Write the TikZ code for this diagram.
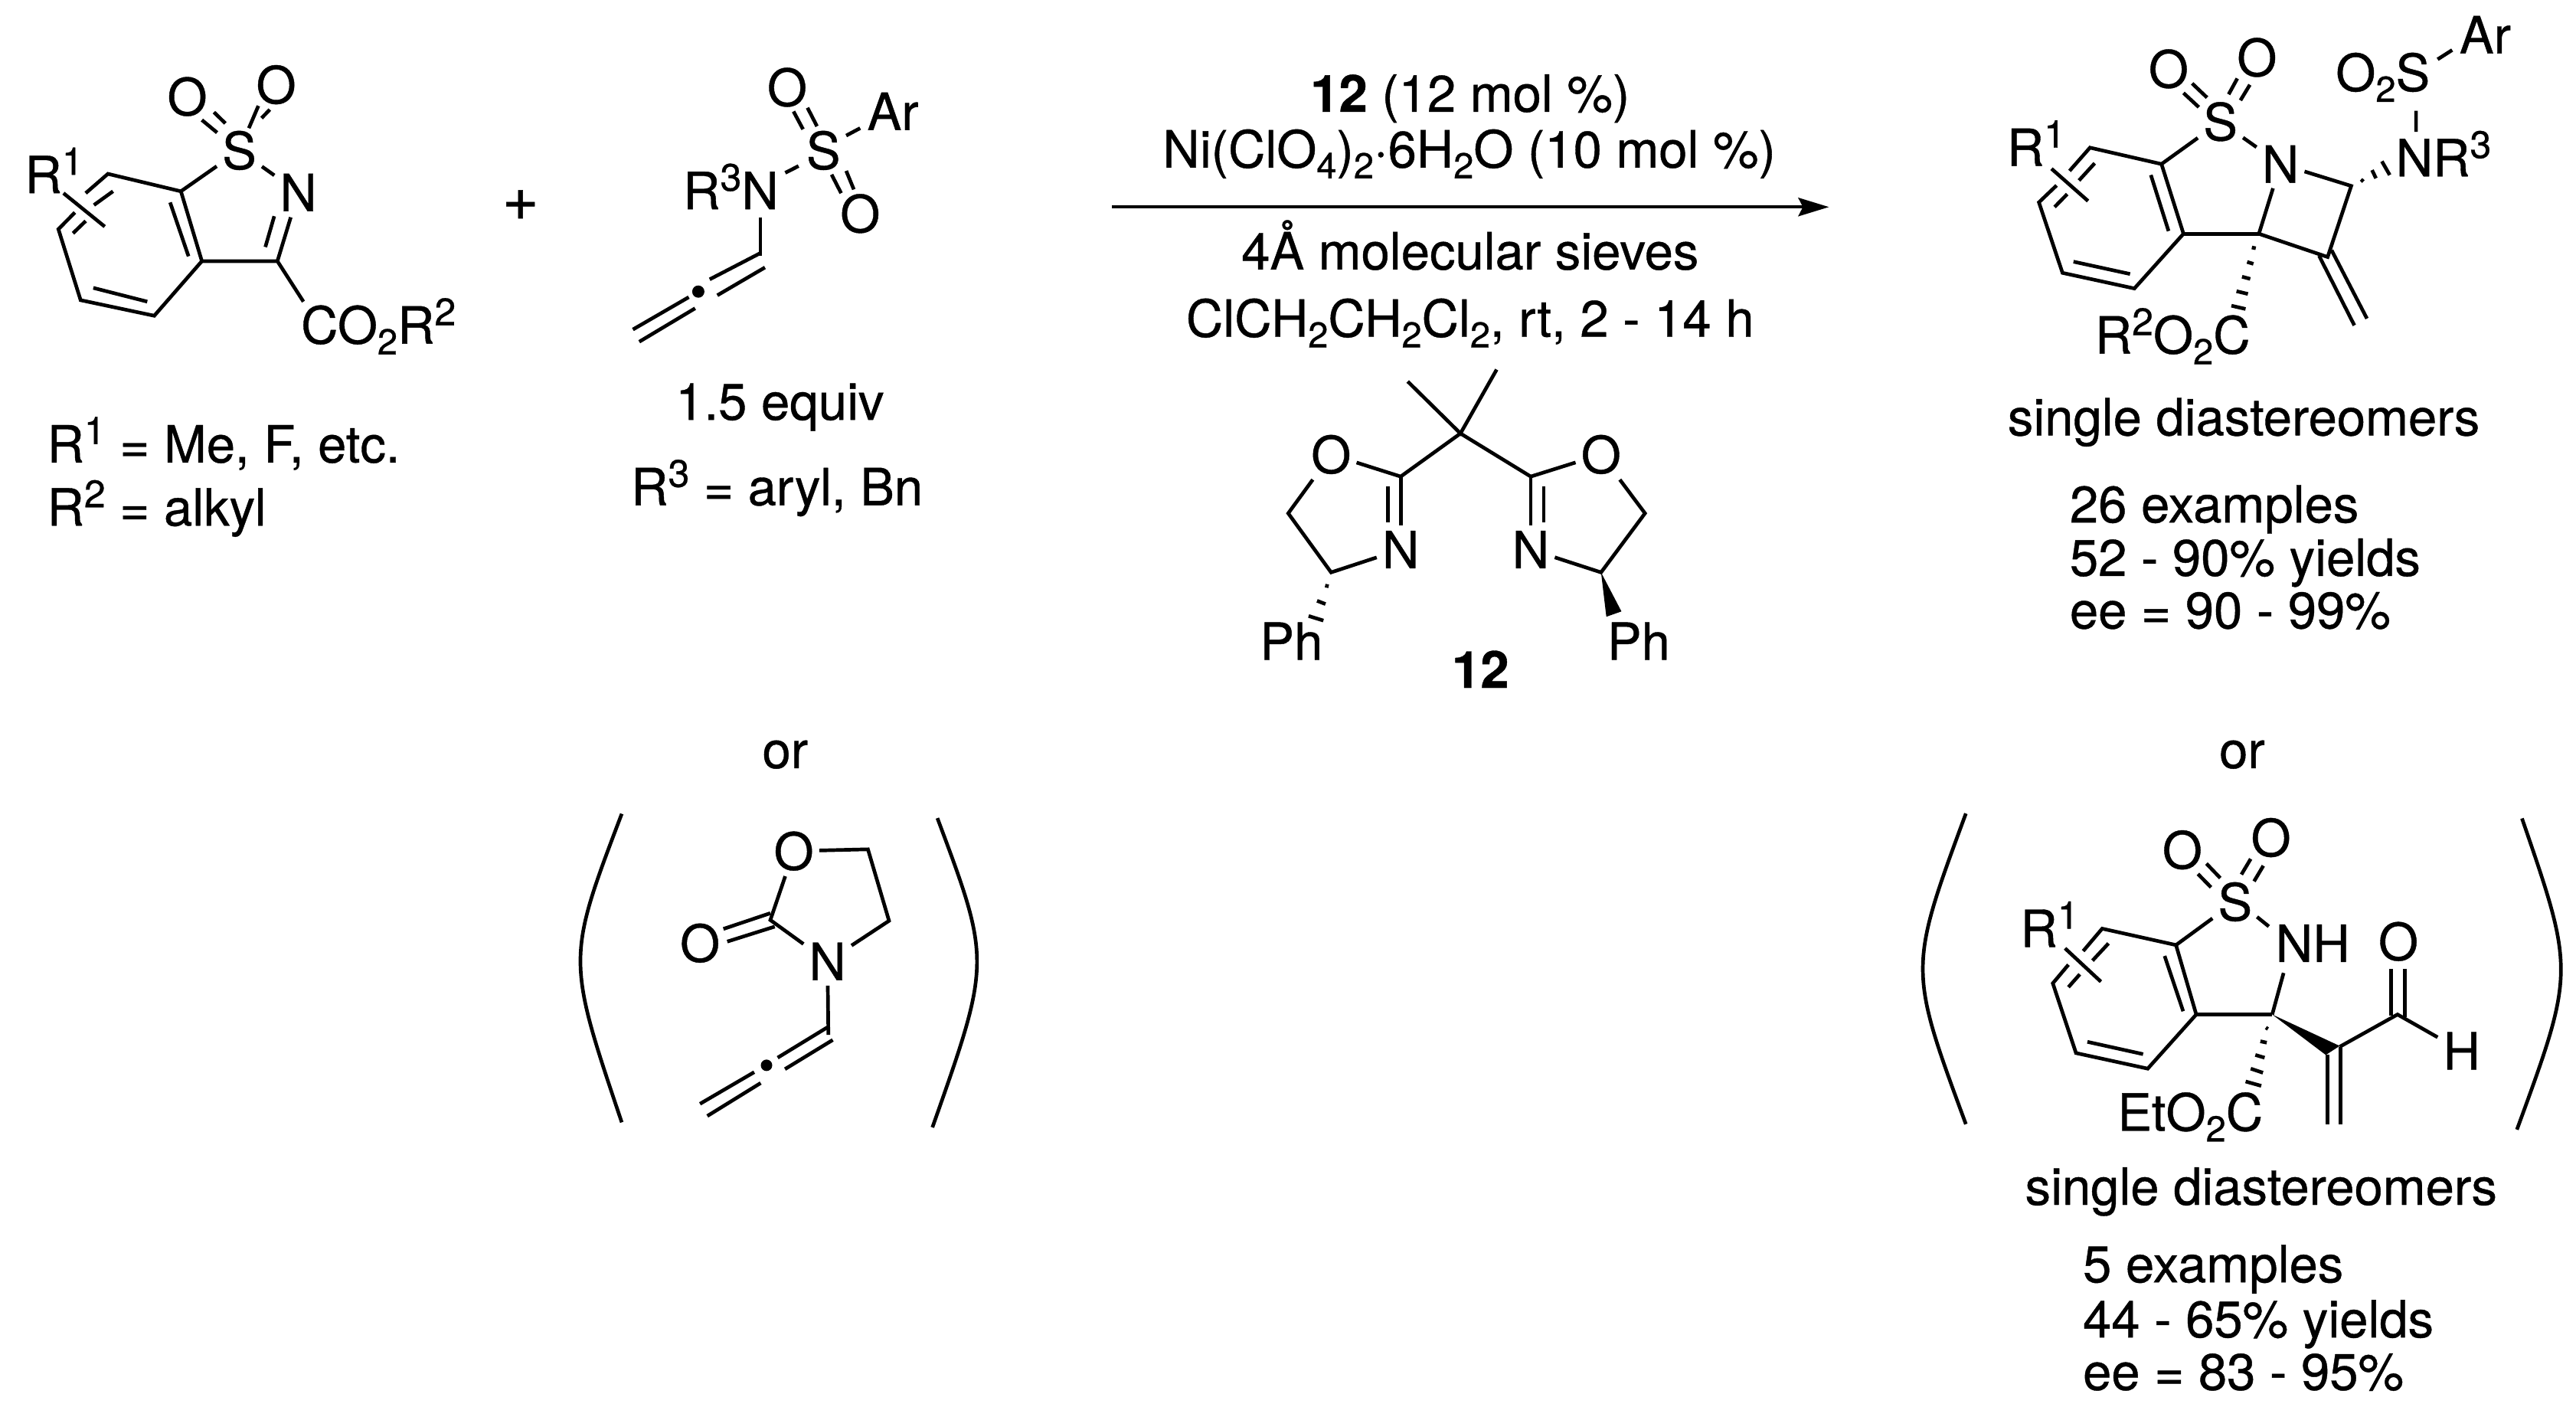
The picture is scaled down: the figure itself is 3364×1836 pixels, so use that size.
\documentclass[tikz,border=0pt]{standalone}
\usepackage{fontspec}
\setmainfont{TeX Gyre Heros}[FakeBold=0.6]
\usetikzlibrary{arrows.meta}
\newcommand{\sups}[1]{\raisebox{24pt}{\fontsize{50}{50}\selectfont #1}}
\newcommand{\subs}[1]{\raisebox{-14pt}{\fontsize{47}{47}\selectfont #1}}
\tikzset{
  every node/.style={font=\fontsize{67}{80}\selectfont,text=black},
  atom/.style={inner sep=7pt,anchor=center},
  lab/.style={inner sep=0pt,anchor=base west,xshift=-5pt},
  rlab/.style={inner sep=0pt,anchor=base west},
  midlab/.style={inner sep=0pt,anchor=base},
  bond/.style={line width=4.7pt,line cap=butt,line join=miter,draw=black},
  brack/.style={line width=4.7pt,draw=black},
  crop1/.style={x=.829pt,y=-.485pt},
  crop2/.style={shift={(2560pt,0pt)},x=.513pt,y=-.357pt},
  crop3/.style={shift={(2500pt,-1040pt)},x=.551pt,y=-.357pt},
  crop4/.style={shift={(1540pt,-460pt)},x=.459pt,y=-.331pt},
  crop5/.style={shift={(740pt,-1040pt)},x=.3827pt,y=-.331pt},
  refc/.style={x=2.145pt,y=-2.145pt},
}
\begin{document}
\begin{tikzpicture}[x=1pt,y=-1pt]
\useasboundingbox (0,0) rectangle (3364,1836);
\fill[white] (0,0) rectangle (3364,1836);

%%% substrate 1 and 2
\begin{scope}[crop1]
\node[atom] (Sa) at (377,405) {S};
\node[atom] (Na) at (470,518) {N};
\node[atom] (Oa1) at (295,260) {O};
\node[atom] (Oa2) at (435,228) {O};
\node[lab] (Ra) at (45,520) {R\sups{1}};
\node[lab] (COa) at (480,925) {CO\subs{2}R\sups{2}};
\coordinate (a1) at (170,468); \coordinate (a2) at (285,515); \coordinate (a3) at (318,703);
\coordinate (a4) at (243,850); \coordinate (a5) at (127,808); \coordinate (a6) at (92,617);
\coordinate (a7) at (437,703); \coordinate (a8) at (478,812);
\draw[bond] (a2)--(a1)--(135,520) (118,572)--(a6)--(a5)--(a4)--(a3)--(a2);
\draw[bond] (a3)--(a7)--(a8);
\draw[bond] (a2)--(Sa); \draw[bond] (Sa)--(Na);
\draw[bond] (a7)--(458,585) (418,665)--(432,582);
\draw[bond] (268,545)--(297,690) (147,775)--(232,812) (178,515)--(148,552) (135,595)--(115,628);
\draw[bond] (100,520)--(165,610);
\draw[bond] (318,323)--(342,357) (337,302)--(355,332) (392,345)--(407,285) (412,318)--(425,295);

\node[atom] (Sb) at (1297,405) {S};
\node[atom] (Ob1) at (1240,235) {O};
\node[atom] (Ob2) at (1355,575) {O};
\node[lab] (Arb) at (1372,350) {Ar};
\node[lab] (Nb) at (1082,563) {R\sups{3}N};
\coordinate (b1) at (1198,688); \coordinate (b0) at (1198,585);
\draw[bond] (b0)--(b1);
\draw[bond] (1237,465)--(1258,447) (1333,365)--(1355,345);
\draw[bond] (1250,300)--(1265,348) (1272,290)--(1287,340) (1310,470)--(1325,520) (1333,460)--(1345,510);
\draw[bond] (1197,682)--(1118,752) (1205,720)--(1130,795) (1085,800)--(997,887) (1095,830)--(1007,920);
\fill (1100,785) ellipse (8pt and 8pt);
\node[lab] at (80,1245) {R\sups{1} = Me, F, etc.};
\node[lab] at (80,1415) {R\sups{2} = alkyl};
\node[lab] at (1070,1130) {1.5 equiv};
\node[lab] at (1000,1360) {R\sups{3} = aryl, Bn};
\node[atom,font=\fontsize{82}{90}\selectfont] (plus) at (820,552) {+};
\end{scope}

%%% ligand
\begin{scope}[crop4]
\coordinate (lc) at (800,320); \coordinate (lm1) at (650,115); \coordinate (lm2) at (903,68);
\coordinate (l2) at (630,490); \coordinate (r2) at (1000,490);
\coordinate (lch2) at (310,635); \coordinate (lch) at (432,868);
\coordinate (rch2) at (1325,635); \coordinate (rch) at (1200,868);
\node[atom] (lO) at (432,403) {O};
\node[atom] (rO) at (1200,403) {O};
\node[atom] (lN) at (630,778) {N};
\node[atom] (rN) at (1000,778) {N};
\node[lab] (lPh) at (240,1213) {Ph};
\node[lab] (rPh) at (1228,1213) {Ph};
\node[atom] (n12) at (857,1250) {\bfseries 12};
\draw[bond] (lm1)--(lc)--(lm2) (l2)--(lc)--(r2);
\draw[bond] (l2)--(lO); \draw[bond] (lO)--(lch2)--(lch)--(lN);
\draw[bond] (r2)--(rO); \draw[bond] (rO)--(rch2)--(rch)--(rN);
\draw[bond] (l2)--(lN); \draw[bond] (r2)--(rN);
\draw[bond] (594,530)--(594,672) (1037,530)--(1037,672);
\draw[bond] (415,920)--(425,923) (392,980)--(416,993) (368,1040)--(410,1058);
\fill (rch)--(1215,1043)--(1258,1022)--cycle;
\end{scope}

%%% oxazolidinone allene
\begin{scope}[crop5]
\node[atom] (cO1) at (775,215) {O};
\node[atom] (cO2) at (455,578) {O};
\node[atom] (cN) at (890,650) {N};
\coordinate (cC) at (695,487); \coordinate (cA) at (1028,208); \coordinate (cB) at (1100,490); \coordinate (cH) at (893,940);
\draw[bond] (cO1)--(cC)--(cN)--(cB)--(cA)--(cO1);
\draw[bond] (cN)--(cH);
\draw[bond] (535,522)--(695,460) (548,572)--(710,513);
\draw[bond] (720,1030)--(890,910) (745,1075)--(908,960) (640,1087)--(455,1212) (662,1130)--(480,1260);
\fill (682,1060) ellipse (7.5pt and 7.5pt);
\draw[brack] (188,68) .. controls (0,640) .. (188,1285);
\draw[brack] (1265,85) .. controls (1448,650) .. (1248,1305);
\end{scope}

%%% product 1
\begin{scope}[crop2]
\node[atom] (Sp) at (662,445) {S};
\node[atom] (Np) at (815,600) {N};
\node[atom] (Op1) at (530,252) {O};
\node[atom] (Op2) at (755,210) {O};
\node[lab] at (128,607) {R\sups{1}};
\node[lab] at (352,1293) {R\sups{2}O\subs{2}C};
\node[lab] at (965,333) {O\subs{2}S};
\node[lab] at (1280,195) {Ar};
\node[lab] at (1118,645) {NR\sups{3}};
\coordinate (p1) at (330,540); \coordinate (p2) at (512,600); \coordinate (p3) at (568,855);
\coordinate (p4) at (443,1055); \coordinate (p5) at (260,998); \coordinate (p6) at (200,740);
\coordinate (p7) at (760,855); \coordinate (p8) at (995,680); \coordinate (p9) at (935,940);
\draw[bond] (p2)--(p1)--(278,625) (245,678)--(p6)--(p5)--(p4)--(p3)--(p2);
\draw[bond] (342,597)--(302,660) (272,710)--(240,757) (232,617)--(325,735);
\draw[bond] (485,640)--(530,845) (288,957)--(432,1002);
\draw[bond] (p2)--(Sp); \draw[bond] (Sp)--(Np);
\draw[bond] (568,340)--(607,392) (590,305)--(628,357) (683,345)--(705,287) (713,367)--(737,310);
\draw[bond] (Np)--(p8)--(p9)--(p7)--(Np);
\draw[bond] (p3)--(p7);
\draw[bond] (945,915)--(1035,1165) (913,935)--(1003,1190);
\draw[bond] (742,905)--(752,908) (730,958)--(746,965) (717,1012)--(738,1020) (703,1065)--(732,1075) (690,1118)--(726,1130);
\draw[bond] (1020,656)--(1026,664) (1048,622)--(1058,652) (1073,590)--(1093,640);
\draw[bond] (1160,405)--(1160,482) (1215,217)--(1252,183);
\end{scope}

%%% product 2
\begin{scope}[crop3]
\node[atom] (Sq) at (760,385) {S};
\node[atom] (Oq1) at (635,195) {O};
\node[atom] (Oq2) at (845,150) {O};
\node[atom] (Oq3) at (1147,530) {O};
\node[atom] (Hq) at (1297,930) {H};
\node[lab] at (865,605) {NH};
\node[lab] at (260,550) {R\sups{1}};
\node[lab] at (490,1222) {EtO\subs{2}C};
\coordinate (q1) at (445,483); \coordinate (q2) at (620,543); \coordinate (q3) at (668,797);
\coordinate (q4) at (553,995); \coordinate (q5) at (383,938); \coordinate (q6) at (328,683);
\coordinate (q7) at (848,797); \coordinate (q8) at (1008,915); \coordinate (q9) at (1145,797);
\draw[bond] (q2)--(q1)--(400,565) (365,615)--(q6)--(q5)--(q4)--(q3)--(q2);
\draw[bond] (460,537)--(422,600) (392,650)--(365,697) (357,555)--(442,677);
\draw[bond] (593,583)--(637,785) (410,897)--(542,942);
\draw[bond] (q2)--(Sq);
\draw[bond] (812,440)--(840,475) (875,645)--(q7);
\draw[bond] (672,283)--(703,332) (692,245)--(725,298) (775,285)--(797,228) (805,310)--(827,253);
\draw[bond] (q3)--(q7);
\fill (q7)--(975,945)--(1008,912)--cycle;
\draw[bond] (q8)--(q9)--(Hq);
\draw[bond] (1130,800)--(1130,630) (1162,808)--(1162,630);
\draw[bond] (979,945)--(979,1198) (1010,915)--(1010,1198);
\draw[bond] (833,845)--(838,850) (820,895)--(835,900) (808,945)--(830,955) (797,995)--(826,1010) (785,1042)--(822,1058);
\draw[brack] (122,62) .. controls (-14,630) .. (122,1198);
\draw[brack] (1440,80) .. controls (1565,640) .. (1428,1218);
\node[rlab] at (262,1493) {single diastereomers};
\end{scope}

%%% free text and arrow
\begin{scope}[refc]
\coordinate (arrS) at (677,126); \coordinate (arrE) at (1113.5,126);
\draw[line width=4.4pt,-{Stealth[length=40pt,width=24pt,inset=6pt]}] (arrS)--(arrE);
\node[midlab] (t1) at (895,68) {\bfseries 12\mdseries{} (12 mol \%)};
\node[midlab] (t2) at (894.5,102) {Ni(ClO\subs{4})\subs{2}·6H\subs{2}O (10 mol \%)};
\node[midlab] (t3) at (895,164) {4Å molecular sieves};
\node[midlab] (t4) at (895,205) {ClCH\subs{2}CH\subs{2}Cl\subs{2}, rt, 2 - 14 h};
\node[midlab] (or1) at (478,467.5) {or};
\node[midlab] (or2) at (1365,467.5) {or};
\node[midlab] (sd1) at (1366,265) {single diastereomers};
\node[rlab] at (1260,318) {26 examples};
\node[rlab] at (1260,350.5) {52 - 90\% yields};
\node[rlab] at (1260,382.5) {ee = 90 - 99\%};
\node[rlab] at (1268,780.5) {5 examples};
\node[rlab] at (1268,814) {44 - 65\% yields};
\node[rlab] at (1268,846) {ee = 83 - 95\%};
\end{scope}
\end{tikzpicture}
\end{document}
